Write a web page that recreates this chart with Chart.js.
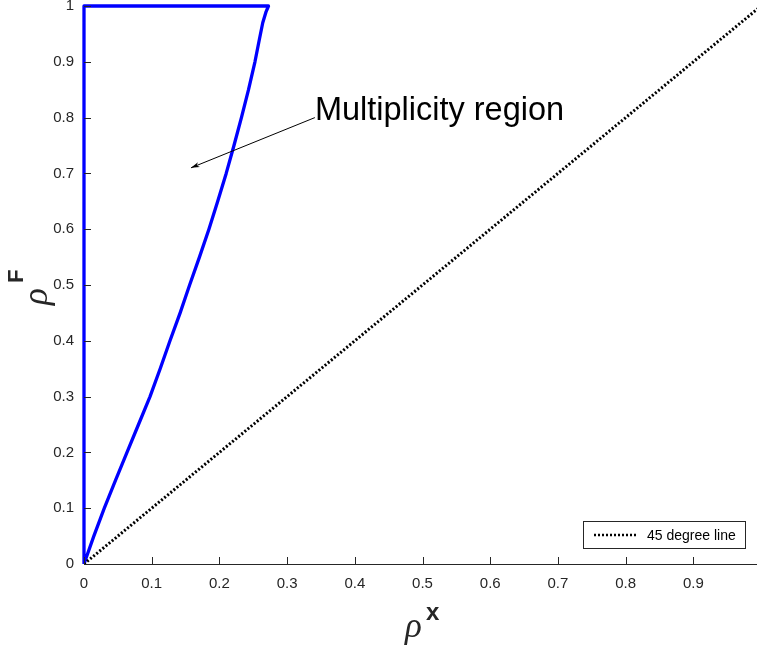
<!DOCTYPE html>
<html lang="en">
<head>
  <meta charset="UTF-8" />
  <title>Multiplicity region</title>
  <script src="https://cdn.jsdelivr.net/npm/chart.js"></script>
  <style>
    * { box-sizing: border-box; margin: 0; padding: 0; }
    body { background: white; font-family: "Liberation Sans", Arial, sans-serif; }
    .chart-box { width: 757px; height: 645px; position: relative; }
  </style>
</head>
<body>

<div class="chart-box">
  <canvas id="regionChart"></canvas>
</div>

<script>
  // boundary of the multiplicity region (rho^x, rho^F)
  const regionX = [0, 0, 0.2725, 0.269, 0.264, 0.259, 0.2525, 0.243, 0.2325, 0.2215, 0.210, 0.1975,
                   0.1845, 0.1705, 0.156, 0.142, 0.127, 0.1125, 0.0975, 0.0805, 0.0635, 0.0465, 0.030, 0.0145, 0];
  const regionY = [0, 1, 1, 0.99, 0.97, 0.94, 0.9, 0.85, 0.8, 0.75, 0.7, 0.65,
                   0.6, 0.55, 0.5, 0.45, 0.4, 0.35, 0.3, 0.25, 0.2, 0.15, 0.1, 0.05, 0];

  // 45 degree line
  const diagX = [0, 1];
  const diagY = [0, 1];

  const xTicks = [0, 0.1, 0.2, 0.3, 0.4, 0.5, 0.6, 0.7, 0.8, 0.9];
  const yTicks = [0, 0.1, 0.2, 0.3, 0.4, 0.5, 0.6, 0.7, 0.8, 0.9, 1];

  const noteText = 'Multiplicity region';
  const noteFrom = [0.341, 0.80];
  const noteTo = [0.158, 0.71];
  const legendText = '45 degree line';

  const axisColor = '#262626';

  function toPoints(xs, ys) {
    return xs.map((x, i) => ({ x: x, y: ys[i] }));
  }

  function fmt(v) {
    if (v === 0) return '0';
    if (v === 1) return '1';
    return v.toFixed(1);
  }

  // fix the axis boxes so the plot area sits where the original does
  function fixBox(size) {
    return function (scale) {
      if (scale.isHorizontal()) scale.height = size; else scale.width = size;
      scale.paddingTop = 0; scale.paddingBottom = 0;
      scale.paddingLeft = 0; scale.paddingRight = 0;
    };
  }

  const extras = {
    id: 'extras',
    afterDraw(chart) {
      const ctx = chart.ctx;
      const xs = chart.scales.x, ys = chart.scales.y;
      const area = chart.chartArea;
      ctx.save();

      // inward tick marks
      ctx.strokeStyle = axisColor;
      ctx.lineWidth = 1;
      ctx.beginPath();
      xTicks.forEach(t => {
        const px = Math.round(xs.getPixelForValue(t)) + 0.5;
        ctx.moveTo(px, area.bottom);
        ctx.lineTo(px, area.bottom - 7);
      });
      yTicks.forEach(t => {
        const py = Math.round(ys.getPixelForValue(t)) + 0.5;
        ctx.moveTo(area.left, py);
        ctx.lineTo(area.left + 7, py);
      });
      ctx.stroke();

      // annotation arrow
      const x0 = xs.getPixelForValue(noteFrom[0]), y0 = ys.getPixelForValue(noteFrom[1]);
      const x1 = xs.getPixelForValue(noteTo[0]), y1 = ys.getPixelForValue(noteTo[1]);
      const ang = Math.atan2(y1 - y0, x1 - x0);
      ctx.strokeStyle = '#000';
      ctx.fillStyle = '#000';
      ctx.lineWidth = 1;
      ctx.beginPath();
      ctx.moveTo(x0, y0);
      ctx.lineTo(x1, y1);
      ctx.stroke();
      ctx.beginPath();
      ctx.moveTo(x1, y1);
      ctx.lineTo(x1 - 9 * Math.cos(ang - 0.3), y1 - 9 * Math.sin(ang - 0.3));
      ctx.lineTo(x1 - 6 * Math.cos(ang), y1 - 6 * Math.sin(ang));
      ctx.lineTo(x1 - 9 * Math.cos(ang + 0.3), y1 - 9 * Math.sin(ang + 0.3));
      ctx.closePath();
      ctx.fill();

      ctx.font = '32.5px "Liberation Sans", Arial, sans-serif';
      ctx.textAlign = 'left';
      ctx.textBaseline = 'alphabetic';
      ctx.fillText(noteText, x0, y0 + 2);

      // legend box
      const lx = 583.5, ly = 521.5, lw = 162, lh = 27;
      ctx.fillStyle = '#fff';
      ctx.fillRect(lx, ly, lw, lh);
      ctx.strokeStyle = axisColor;
      ctx.strokeRect(lx, ly, lw, lh);
      ctx.strokeStyle = '#000';
      ctx.lineWidth = 2.5;
      ctx.setLineDash([2, 2]);
      ctx.beginPath();
      ctx.moveTo(594, ly + lh / 2);
      ctx.lineTo(637, ly + lh / 2);
      ctx.stroke();
      ctx.setLineDash([]);
      ctx.fillStyle = '#000';
      ctx.font = '14px "Liberation Sans", Arial, sans-serif';
      ctx.textBaseline = 'middle';
      ctx.fillText(legendText, 647, ly + lh / 2 + 1);

      // axis titles: rho with bold superscripts
      ctx.fillStyle = axisColor;
      ctx.textBaseline = 'alphabetic';
      ctx.font = 'italic 35px "Liberation Serif", serif';
      ctx.fillText('\u03C1', 405, 637);
      ctx.font = 'bold 24px "Liberation Sans", Arial, sans-serif';
      ctx.fillText('x', 426, 620);

      ctx.save();
      ctx.translate(47, 305);
      ctx.rotate(-Math.PI / 2);
      ctx.font = 'italic 35px "Liberation Serif", serif';
      ctx.fillText('\u03C1', 0, 0);
      ctx.font = 'bold 22px "Liberation Sans", Arial, sans-serif';
      ctx.fillText('F', 22, -24);
      ctx.restore();

      ctx.restore();
    }
  };

  new Chart(document.getElementById('regionChart').getContext('2d'), {
    type: 'scatter',
    data: {
      datasets: [
        {
          label: legendText,
          data: toPoints(diagX, diagY),
          showLine: true,
          borderColor: '#000',
          borderWidth: 3,
          borderDash: [2, 2],
          pointRadius: 0,
          tension: 0
        },
        {
          label: 'region',
          data: toPoints(regionX, regionY),
          showLine: true,
          borderColor: '#0000ff',
          borderWidth: 3.3,
          borderJoinStyle: 'round',
          pointRadius: 0,
          tension: 0,
          clip: 6
        }
      ]
    },
    options: {
      responsive: true,
      maintainAspectRatio: false,
      animation: false,
      layout: { padding: { top: 6, right: 0, left: 0, bottom: 0 } },
      plugins: {
        legend: { display: false },
        tooltip: { enabled: false }
      },
      scales: {
        x: {
          type: 'linear',
          min: 0,
          max: 0.994,
          afterFit: fixBox(81),
          afterBuildTicks: s => { s.ticks = xTicks.map(v => ({ value: v })); },
          grid: { display: false, drawTicks: false },
          border: { display: true, color: axisColor, width: 1 },
          ticks: {
            padding: 11,
            color: axisColor,
            font: { family: '"Liberation Sans", Arial, sans-serif', size: 15 },
            maxRotation: 0,
            callback: v => fmt(v)
          }
        },
        y: {
          type: 'linear',
          min: 0,
          max: 1,
          afterFit: fixBox(84),
          afterBuildTicks: s => { s.ticks = yTicks.map(v => ({ value: v })); },
          grid: { display: false, drawTicks: false },
          border: { display: true, color: axisColor, width: 1 },
          ticks: {
            padding: 10,
            color: axisColor,
            font: { family: '"Liberation Sans", Arial, sans-serif', size: 15 },
            callback: v => fmt(v)
          }
        }
      }
    },
    plugins: [extras]
  });
</script>

</body>
</html>
